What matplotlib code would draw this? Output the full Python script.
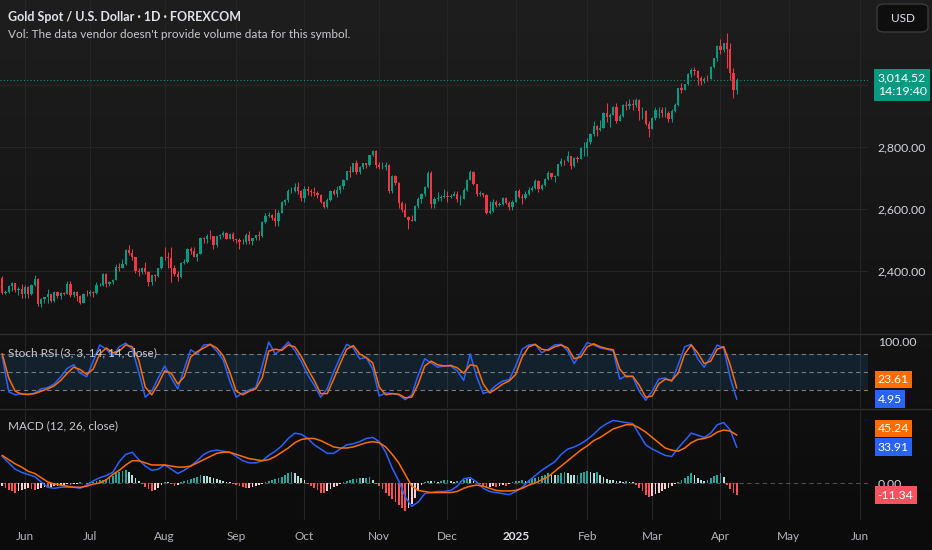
import matplotlib.pyplot as plt
import matplotlib.transforms as mtransforms
from matplotlib.lines import Line2D
from matplotlib.patches import FancyBboxPatch
import numpy as np
import pandas as pd

# ---- daily candles, 23 May 2024 .. 8 Apr 2025 (open = previous close) ----
first_open = 2378
close = [
    2329, 2334, 2351, 2361, 2338, 2343, 2327,
    2349, 2327, 2355, 2375, 2294, 2311, 2316, 2325, 2303, 2333, 2319, 2329, 2328, 2360, 2322, 2334, 2320, 2298, 2327, 2326,
    2332, 2330, 2356, 2356, 2392, 2359, 2364, 2371, 2415, 2411, 2422, 2469, 2459, 2445, 2400, 2396, 2409, 2398, 2364, 2387, 2384, 2410, 2447,
    2446, 2443, 2410, 2390, 2382, 2427, 2431, 2472, 2465, 2447, 2456, 2507, 2504, 2514, 2512, 2484, 2512, 2518, 2524, 2505, 2521, 2503,
    2500, 2493, 2495, 2517, 2497, 2506, 2516, 2512, 2558, 2578, 2582, 2570, 2560, 2587, 2622, 2628, 2657, 2657, 2672, 2658, 2634,
    2663, 2658, 2656, 2653, 2644, 2622, 2608, 2630, 2657, 2649, 2662, 2674, 2693, 2721, 2720, 2749, 2718, 2736, 2747, 2743, 2774, 2788, 2743,
    2736, 2736, 2742, 2659, 2706, 2684, 2618, 2598, 2573, 2565, 2563, 2611, 2631, 2650, 2670, 2715, 2616, 2632, 2637, 2640, 2643,
    2640, 2643, 2650, 2632, 2633, 2661, 2694, 2718, 2681, 2648, 2652, 2646, 2586, 2595, 2622, 2613, 2617, 2634, 2621, 2606, 2624,
    2658, 2640, 2636, 2648, 2662, 2669, 2690, 2663, 2677, 2697, 2715, 2703, 2708, 2745, 2756, 2754, 2771, 2740, 2763, 2760, 2795, 2798,
    2815, 2842, 2867, 2856, 2861, 2908, 2897, 2904, 2928, 2883, 2898, 2935, 2933, 2939, 2936, 2951, 2915, 2916, 2875, 2858,
    2893, 2918, 2920, 2910, 2910, 2889, 2916, 2934, 2989, 2984, 3001, 3035, 3048, 3044, 3022, 3011, 3020, 3019, 3057, 3085, 3124,
    3113, 3133, 3114, 3037, 2982, 3014.52,
]
high = [
    2385, 2340, 2354, 2364, 2363, 2348, 2360,
    2354, 2352, 2358, 2388, 2378, 2313, 2318, 2342, 2327, 2335, 2335, 2333, 2333, 2368, 2369, 2335, 2336, 2322, 2331, 2340,
    2338, 2335, 2365, 2363, 2393, 2393, 2368, 2376, 2424, 2425, 2440, 2470, 2483, 2470, 2447, 2411, 2412, 2431, 2400, 2389, 2391, 2411, 2450,
    2477, 2462, 2477, 2420, 2401, 2431, 2440, 2475, 2477, 2479, 2460, 2509, 2510, 2520, 2531, 2508, 2513, 2520, 2528, 2527, 2523, 2526,
    2504, 2507, 2503, 2523, 2529, 2507, 2518, 2529, 2560, 2586, 2589, 2585, 2600, 2596, 2625, 2633, 2664, 2670, 2685, 2686, 2660,
    2673, 2673, 2665, 2670, 2657, 2647, 2625, 2634, 2661, 2666, 2674, 2677, 2696, 2722, 2740, 2749, 2758, 2740, 2749, 2746, 2774, 2790, 2791,
    2750, 2750, 2750, 2745, 2709, 2711, 2686, 2627, 2618, 2578, 2582, 2614, 2639, 2651, 2674, 2721, 2721, 2640, 2655, 2644, 2665,
    2657, 2650, 2658, 2657, 2646, 2668, 2697, 2726, 2721, 2680, 2658, 2653, 2650, 2626, 2632, 2630, 2622, 2639, 2638, 2625, 2630,
    2660, 2665, 2647, 2659, 2670, 2674, 2697, 2692, 2680, 2699, 2724, 2715, 2710, 2746, 2763, 2758, 2786, 2772, 2766, 2771, 2800, 2817,
    2830, 2845, 2882, 2870, 2886, 2911, 2942, 2908, 2933, 2942, 2905, 2938, 2947, 2955, 2955, 2956, 2954, 2930, 2919, 2883,
    2897, 2928, 2928, 2930, 2930, 2915, 2921, 2940, 2990, 3005, 3004, 3038, 3055, 3057, 3047, 3028, 3024, 3033, 3059, 3087, 3128,
    3149, 3134, 3167, 3136, 3055, 3022,
]
low = [
    2326, 2326, 2329, 2335, 2334, 2323, 2314,
    2314, 2315, 2323, 2352, 2287, 2286, 2298, 2299, 2300, 2300, 2315, 2312, 2323, 2327, 2316, 2318, 2304, 2294, 2296, 2321,
    2319, 2318, 2328, 2352, 2353, 2350, 2353, 2360, 2371, 2402, 2410, 2421, 2453, 2435, 2393, 2384, 2392, 2391, 2353, 2355, 2370, 2381, 2408,
    2436, 2411, 2364, 2385, 2368, 2379, 2422, 2427, 2456, 2445, 2432, 2454, 2490, 2492, 2503, 2471, 2479, 2505, 2509, 2502, 2502, 2498,
    2490, 2471, 2488, 2488, 2486, 2485, 2500, 2500, 2510, 2556, 2573, 2565, 2546, 2546, 2586, 2614, 2622, 2651, 2655, 2648, 2625,
    2624, 2646, 2642, 2643, 2635, 2618, 2603, 2605, 2627, 2644, 2639, 2653, 2665, 2692, 2704, 2718, 2714, 2712, 2729, 2731, 2740, 2770, 2732,
    2730, 2728, 2726, 2652, 2651, 2676, 2602, 2589, 2585, 2537, 2560, 2563, 2605, 2621, 2643, 2667, 2605, 2604, 2625, 2625, 2635,
    2622, 2635, 2641, 2624, 2614, 2631, 2658, 2692, 2678, 2643, 2642, 2639, 2583, 2584, 2592, 2607, 2610, 2612, 2616, 2596, 2598,
    2623, 2636, 2615, 2633, 2646, 2657, 2665, 2656, 2660, 2674, 2695, 2696, 2688, 2705, 2740, 2743, 2753, 2730, 2734, 2752, 2760, 2772,
    2772, 2810, 2835, 2835, 2852, 2860, 2880, 2864, 2902, 2878, 2882, 2895, 2920, 2922, 2918, 2928, 2888, 2891, 2869, 2832,
    2858, 2888, 2894, 2895, 2897, 2880, 2880, 2912, 2933, 2973, 2982, 3000, 3025, 3030, 2999, 3000, 3006, 3013, 3018, 3055, 3076,
    3100, 3106, 3054, 3015, 2956, 2970,
]

# ---- Stoch RSI, sampled every second bar ----
stoch_k = [
    75, 17, 12, 14, 12, 15, 22, 24, 30, 42,
    56, 62, 48, 42, 68, 95, 88, 76, 92, 98,
    88, 50, 8, 18, 40, 60, 40, 22, 55, 87,
    80, 95, 96, 85, 70, 35, 8, 15, 20, 24,
    60, 100, 80, 88, 100, 86, 68, 45, 28, 8,
    22, 50, 75, 96, 90, 72, 74, 55, 10, 15,
    14, 12, 4, 12, 45, 72, 65, 58, 60, 60,
    52, 36, 80, 42, 14, 18, 28, 35, 37, 60,
    88, 95, 96, 82, 88, 95, 96, 85, 64, 82,
    99, 95, 90, 88, 85, 38, 44, 42, 18, 3,
    18, 38, 40, 34, 62, 92, 96, 72, 58, 75,
    95, 90, 40, 4.95,
]
stoch_d = [
    80, 40, 18, 13, 13, 14, 18, 22, 27, 36,
    48, 58, 54, 46, 55, 80, 90, 82, 85, 95,
    92, 70, 25, 12, 30, 52, 48, 30, 42, 75,
    84, 90, 96, 90, 77, 50, 18, 12, 18, 22,
    40, 85, 88, 86, 95, 92, 76, 55, 36, 14,
    14, 38, 64, 88, 94, 80, 74, 65, 25, 12,
    14, 13, 7, 8, 30, 60, 68, 62, 60, 61,
    57, 48, 62, 60, 30, 15, 22, 30, 35, 46,
    75, 92, 96, 88, 86, 92, 95, 90, 72, 75,
    92, 97, 92, 89, 87, 55, 42, 43, 28, 8,
    10, 30, 38, 36, 48, 80, 95, 82, 64, 68,
    88, 92, 62, 23.61,
]

# ---- MACD, lines sampled every second bar, histogram every bar ----
macd_line = [
    25, 19, 13, 10, 8, 6, 1, -4, -5, -4,
    -4, -4, -5, -2, 2, 5, 7, 10, 20, 27,
    29, 22, 16, 12, 13, 17, 13, 9, 12, 16,
    21, 27, 30, 31, 30, 29, 25, 21, 19, 19,
    21, 26, 30, 35, 42, 47, 46, 42, 36, 32,
    28, 28, 32, 36, 37, 39, 42, 43, 39, 29,
    14, 2, -13, -22, -18, -10, -9, -8, -8, -7,
    -3, 4, 5, 1, -5, -8, -9, -10, -11, -8,
    -4, 2, 7, 12, 16, 20, 27, 32, 34, 37,
    41, 46, 52, 56, 59, 58, 57, 56, 46, 36,
    32, 29, 26, 25, 33, 40, 47, 45, 43, 47,
    55, 57, 50, 33.91,
]
signal_line = [
    26, 22, 18, 15, 11, 9, 5, 1, -1, -2,
    -3, -4, -4, -3, -1, 0, 3, 8, 12, 17,
    21, 21, 19, 17, 17, 17, 16, 15, 15, 16,
    19, 22, 25, 28, 29, 29, 27, 25, 23, 22,
    21, 22, 25, 29, 33, 38, 41, 42, 42, 40,
    37, 34, 33, 33, 34, 36, 38, 39, 38, 34,
    27, 19, 8, -3, -7, -8, -9, -9, -9, -9,
    -8, -5, -3, -2, -3, -5, -7, -7.5, -7.5, -7,
    -5, -2, 0, 3, 6, 11, 16, 21, 26, 31,
    35, 40, 43, 47, 51, 53, 55, 55, 52, 48,
    43, 38, 33, 31, 30, 33, 38, 41, 42, 44,
    48, 50, 49, 45.24,
]
macd_hist = [
    -3, -5, -7, -8, -9, -8, -7,
    -6, -5, -6, -7, -6, -5, -4, -5, -4, -3,
    -3, -2, -2, -1, -2, -1, -1, 0.5, 0, -0.5, 0.5, 1,
    2, 3, 3, 4, 5, 7, 9, 10, 11, 12, 10, 8, 5, 2,
    -1, -4, -6, -8, -7, -5, -2, 1, 0.5, -1, -3, -2,
    1, 2, 3, 4, 5, 6, 7.5, 7, 6.5, 6, 5, 4, 3, 2, 1, 0.5,
    -1, -2, -3, -4, -5, -4.5, -4, -3, -2, -1,
    1, 2, 3, 4, 5, 6, 8, 9, 10.5, 9, 7, 5, 3,
    -1, -3, -5, -7, -9, -9.5, -8, -6, -4, -3, -1,
    1, 2, 3, 3.5, 4, 5, 4.5, 5, 6, 3,
    -1, -3, -6, -9, -12, -15, -18, -21, -24, -26, -24, -20, -14, -8, -2,
    1, 2, 1.5, 2, 1, 2, 2.5, 3, 2, 1, 1.5, 2, 3, 4, 3.5, 2, 1,
    -1, -3, -5, -4, -3, -4, -3, -2, -3, -1,
    1, 1.5, 2, 2.5, 2, 3, 4, 5, 6, 7, 8, 9, 8, 7.5, 8, 9, 10, 9, 8, 7.5,
    8, 9, 10, 11, 10.5, 9, 10, 8, 6, 4, 3, 2.5, 2, 1.5, 1, 1.5, 1, 0.5,
    -2, -5, -8, -11, -13, -12, -10, -9, -8, -6, -5, -3, -1,
    1, 3, 5, 7, 9.5, 8, 5, 3, 2, 2.5, 5, 7, 8, 9, 6,
    -2, -6, -9, -11.34,
]

price_ticks = [2400, 2600, 2800, 3000]
holidays = ['2024-12-25', '2025-01-01', '2025-04-18']
countdown = '14:19:40'

plt.rcParams['font.family'] = ['Lato', 'DejaVu Sans']

W, H = 932, 550
fig = plt.figure(figsize=(W / 100, H / 100), dpi=100, facecolor='#141414')


def px_rect(x0, y0, x1, y1):
    return [x0 / W, 1 - y1 / H, (x1 - x0) / W, (y1 - y0) / H]


# background gradient
bg = fig.add_axes([0, 0, 1, 1], zorder=-10)
t = np.linspace(0, 1, 256)[:, None, None]
top_c = np.array([30, 30, 30]) / 255
bot_c = np.array([11, 11, 11]) / 255
bg.imshow(top_c + (bot_c - top_c) * t, aspect='auto', extent=[0, 1, 0, 1])
bg.axis('off')

ax = fig.add_axes(px_rect(0, 0, 868, 333))
ax_s = fig.add_axes(px_rect(0, 334, 868, 408))
ax_m = fig.add_axes(px_rect(0, 409, 868, 520))

dates = pd.bdate_range('2024-05-23', '2025-06-30').drop(pd.to_datetime(holidays))
month_pos, month_lab = [], []
for i in range(1, len(dates)):
    if dates[i].month != dates[i - 1].month:
        month_pos.append(i)
        month_lab.append('2025' if dates[i].month == 1 else dates[i].strftime('%b'))

grid_c = '#252525'
for a in (ax, ax_s, ax_m):
    a.set_facecolor('none')
    for sp in a.spines.values():
        sp.set_visible(False)
    a.set_xlim(-0.69, 266.4)
    a.yaxis.tick_right()
    a.tick_params(axis='y', length=0, pad=7, labelsize=8.8, labelcolor='#d1d4dc')
    for p in month_pos:
        a.axvline(p, color=grid_c, lw=0.8, zorder=0)

# ---- candles ----
x = np.arange(len(close))
c = np.array(close, float)
o = np.r_[first_open, c[:-1]]
h = np.maximum(np.array(high, float), np.maximum(o, c))
l = np.minimum(np.array(low, float), np.minimum(o, c))
col = np.where(c >= o, '#089981', '#f23645')
ax.vlines(x, l, h, colors=col, lw=0.75, zorder=3)
ax.bar(x, c - o, bottom=o, width=0.68, color=col, lw=0, zorder=4)
for v in price_ticks:
    ax.axhline(v, color=grid_c, lw=0.8, zorder=0)
ax.set_ylim(2201, 3273)
ax.set_yticks(price_ticks)
ax.set_yticklabels([f'{v:,.2f}' if v != 3000 else '' for v in price_ticks])
ax.set_xticks([])

last = c[-1]
ax.axhline(last, color='#089981', lw=0.8, ls=(0, (1, 2)), zorder=2)
trans = mtransforms.blended_transform_factory(ax.transAxes, ax.transData)
ax.annotate(f'{last:,.2f}\n{countdown}', xy=(1, last), xycoords=trans,
            xytext=(7, 5.5), textcoords='offset points', ha='left', va='top',
            fontsize=8.8, color='white', linespacing=1.3,
            bbox=dict(boxstyle='square,pad=0.3', fc='#089981', ec='none'),
            annotation_clip=False, zorder=10)

# ---- Stoch RSI ----
xs = x[::2]
ax_s.axhspan(20, 80, color='#2196f3', alpha=0.12, lw=0, zorder=1)
for lv in (80, 50, 20):
    ax_s.axhline(lv, color='#787b86', lw=0.8, ls=(0, (4, 3)), zorder=2)
ax_s.plot(xs, stoch_k, color='#2962ff', lw=1.1, zorder=4)
ax_s.plot(xs, stoch_d, color='#ff6d00', lw=1.1, zorder=5)
ax_s.set_ylim(-10, 113.3)
ax_s.set_yticks([100])
ax_s.set_yticklabels(['100.00'])
ax_s.set_xticks([])
trans_s = mtransforms.blended_transform_factory(ax_s.transAxes, ax_s.transData)


def value_tag(a, tr, val, fc, dy, text=None):
    a.annotate(text or f'{val:.2f}', xy=(1, val), xycoords=tr, xytext=(7, dy),
               textcoords='offset points', ha='left', va='center', fontsize=8.8,
               color='white', bbox=dict(boxstyle='square,pad=0.25', fc=fc, ec='none'),
               annotation_clip=False, zorder=10)


value_tag(ax_s, trans_s, stoch_d[-1], '#ff6d00', 6)
value_tag(ax_s, trans_s, stoch_k[-1], '#2962ff', 0)

# ---- MACD ----
hist = np.array(macd_hist, float)
prev = np.r_[hist[0], hist[:-1]]
hcol = np.where(hist >= 0,
                np.where(hist >= prev, '#26a69a', '#b2dfdb'),
                np.where(hist < prev, '#ff5252', '#ffcdd2'))
ax_m.axhline(0, color='#787b86', lw=0.8, ls=(0, (4, 3)), alpha=0.6, zorder=1)
ax_m.bar(x, hist, width=0.55, color=hcol, lw=0, zorder=2)
ax_m.plot(xs, macd_line, color='#2962ff', lw=1.1, zorder=3)
ax_m.plot(xs, signal_line, color='#ff6d00', lw=1.1, zorder=4)
ax_m.set_ylim(-34.9, 69.8)
ax_m.set_yticks([0])
ax_m.set_yticklabels(['0.00'])
trans_m = mtransforms.blended_transform_factory(ax_m.transAxes, ax_m.transData)
value_tag(ax_m, trans_m, signal_line[-1], '#ff6d00', 5)
value_tag(ax_m, trans_m, macd_line[-1], '#2962ff', 0)
value_tag(ax_m, trans_m, hist[-1], '#f7525f', 0)

ax_m.set_xticks(month_pos)
ax_m.set_xticklabels(month_lab)
ax_m.tick_params(axis='x', length=0, pad=8, labelsize=8.5, labelcolor='#b2b5be')
for lab in ax_m.get_xticklabels():
    if lab.get_text() == '2025':
        lab.set_fontweight('bold')
        lab.set_color('#e0e3eb')

# pane separators
for yy in (333.5, 408.5):
    fig.add_artist(Line2D([0, 1], [1 - yy / H] * 2, color='#2e2e2e', lw=1))

# header texts
fig.text(8 / W, 1 - 17 / H, 'Gold Spot / U.S. Dollar · 1D · FOREXCOM', fontsize=9,
         color='#e0e3eb', fontweight='bold', va='center')
fig.text(8 / W, 1 - 34 / H, "Vol: The data vendor doesn't provide volume data for this symbol.",
         fontsize=8.5, color='#c8cad0', va='center')
fig.text(8 / W, 1 - 353 / H, 'Stoch RSI (3, 3, 14, 14, close)', fontsize=8.5,
         color='#c8cad0', va='center')
fig.text(8 / W, 1 - 426 / H, 'MACD (12, 26, close)', fontsize=8.5,
         color='#c8cad0', va='center')

# currency button
fig.add_artist(FancyBboxPatch((877 / W, 1 - 32 / H), 51 / W, 28 / H,
                              boxstyle='round,pad=0,rounding_size=0.008',
                              transform=fig.transFigure, fc='#0e0e0e', ec='#3a3a3a', lw=1))
fig.text(902.5 / W, 1 - 18 / H, 'USD', fontsize=8.5, color='#e0e3eb', ha='center', va='center')

fig.savefig('out.png', dpi=100, facecolor=fig.get_facecolor())
